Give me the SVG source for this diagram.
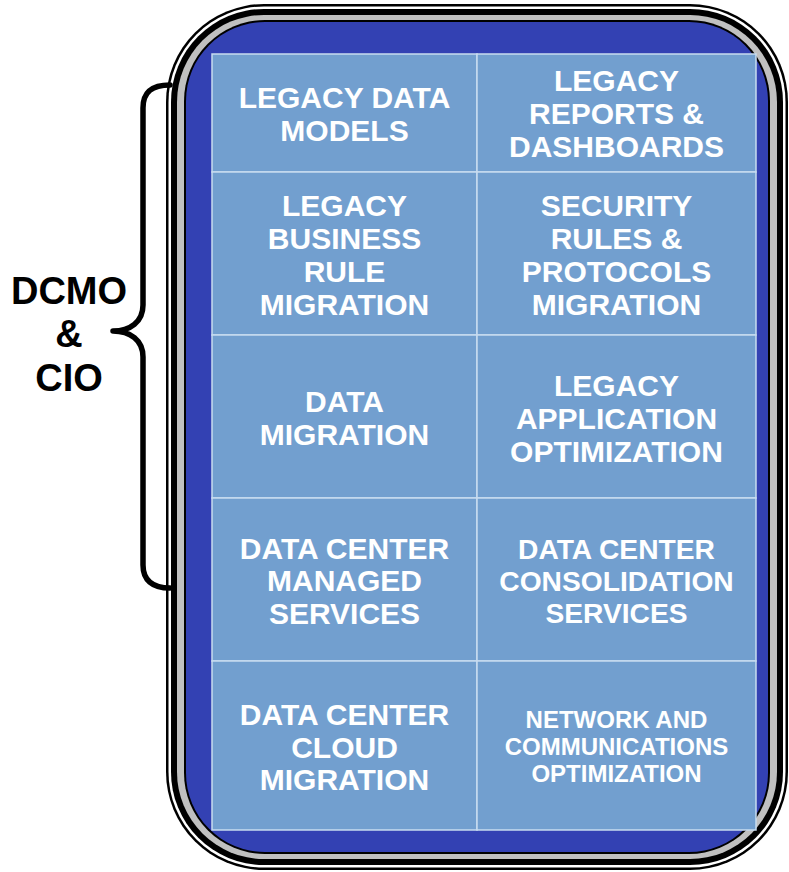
<svg xmlns="http://www.w3.org/2000/svg" width="789" height="872" viewBox="0 0 789 872">
<style>
.cell{fill:#729fcf;stroke:#c8dcf0;stroke-width:1.5}
.t{font-family:"Liberation Sans",Arial,sans-serif;font-weight:bold;fill:#ffffff;text-anchor:middle;font-size:30px}
.lbl{font-family:"Liberation Sans",Arial,sans-serif;font-weight:bold;fill:#000000;text-anchor:middle;font-size:38px}
</style>
<rect width="789" height="872" fill="#ffffff"/>
<g id="frame">
<rect x="166" y="4" width="622" height="866" rx="98" ry="98" fill="#000000"/>
<rect x="168.5" y="6.5" width="617" height="861" rx="95.5" ry="95.5" fill="#ffffff"/>
<rect x="171" y="9" width="612" height="856" rx="93" ry="93" fill="#000000"/>
<rect x="177" y="15" width="600" height="844" rx="87" ry="87" fill="#c0c0c0"/>
<rect x="184" y="20" width="586" height="834" rx="81" ry="81" fill="#000000"/>
<rect x="186" y="22" width="582" height="830" rx="79" ry="79" fill="#3341b3"/>
</g>
<g id="connectors">
<path d="M170,85 C152,85 143,92 143,108 L143,305 C143,322 130,331 113,331 C130,331 143,340 143,357 L143,565 C143,580 152,588 170,588" fill="none" stroke="#000000" stroke-width="5.5" stroke-linecap="round" stroke-linejoin="round"/>
</g>
<g id="label">
<text class="lbl" x="69" y="304">DCMO</text>
<text class="lbl" x="69" y="347">&amp;</text>
<text class="lbl" x="69" y="391">CIO</text>
</g>
<g id="n1"><rect class="cell" x="212" y="54" width="265" height="118"/>
<text class="t" x="344.5" y="108">LEGACY DATA</text><text class="t" x="344.5" y="140.5">MODELS</text></g>
<g id="n2"><rect class="cell" x="477" y="54" width="279" height="118"/>
<text class="t" x="616.5" y="91">LEGACY</text><text class="t" x="616.5" y="124">REPORTS &amp;</text><text class="t" x="616.5" y="157">DASHBOARDS</text></g>
<g id="n3"><rect class="cell" x="212" y="172" width="265" height="163"/>
<text class="t" x="344.5" y="216">LEGACY</text><text class="t" x="344.5" y="249">BUSINESS</text><text class="t" x="344.5" y="282">RULE</text><text class="t" x="344.5" y="314.5">MIGRATION</text></g>
<g id="n4"><rect class="cell" x="477" y="172" width="279" height="163"/>
<text class="t" x="616.5" y="216">SECURITY</text><text class="t" x="616.5" y="249">RULES &amp;</text><text class="t" x="616.5" y="282">PROTOCOLS</text><text class="t" x="616.5" y="314.5">MIGRATION</text></g>
<g id="n5"><rect class="cell" x="212" y="335" width="265" height="163"/>
<text class="t" x="344.5" y="412">DATA</text><text class="t" x="344.5" y="445">MIGRATION</text></g>
<g id="n6"><rect class="cell" x="477" y="335" width="279" height="163"/>
<text class="t" x="616.5" y="396">LEGACY</text><text class="t" x="616.5" y="429">APPLICATION</text><text class="t" x="616.5" y="462">OPTIMIZATION</text></g>
<g id="n7"><rect class="cell" x="212" y="498" width="265" height="163"/>
<text class="t" x="344.5" y="559">DATA CENTER</text><text class="t" x="344.5" y="591">MANAGED</text><text class="t" x="344.5" y="624">SERVICES</text></g>
<g id="n8"><rect class="cell" x="477" y="498" width="279" height="163"/>
<text class="t" x="616.5" y="558.5" style="font-size:28.2px">DATA CENTER</text><text class="t" x="616.5" y="590.5" style="font-size:28.2px">CONSOLIDATION</text><text class="t" x="616.5" y="622.5" style="font-size:28.2px">SERVICES</text></g>
<g id="n9"><rect class="cell" x="212" y="661" width="265" height="169"/>
<text class="t" x="344.5" y="725">DATA CENTER</text><text class="t" x="344.5" y="758">CLOUD</text><text class="t" x="344.5" y="790">MIGRATION</text></g>
<g id="n10"><rect class="cell" x="477" y="661" width="279" height="169"/>
<text class="t" x="616.5" y="727.5" style="font-size:24px">NETWORK AND</text><text class="t" x="616.5" y="754.5" style="font-size:24px">COMMUNICATIONS</text><text class="t" x="616.5" y="781.5" style="font-size:24px">OPTIMIZATION</text></g>
</svg>
